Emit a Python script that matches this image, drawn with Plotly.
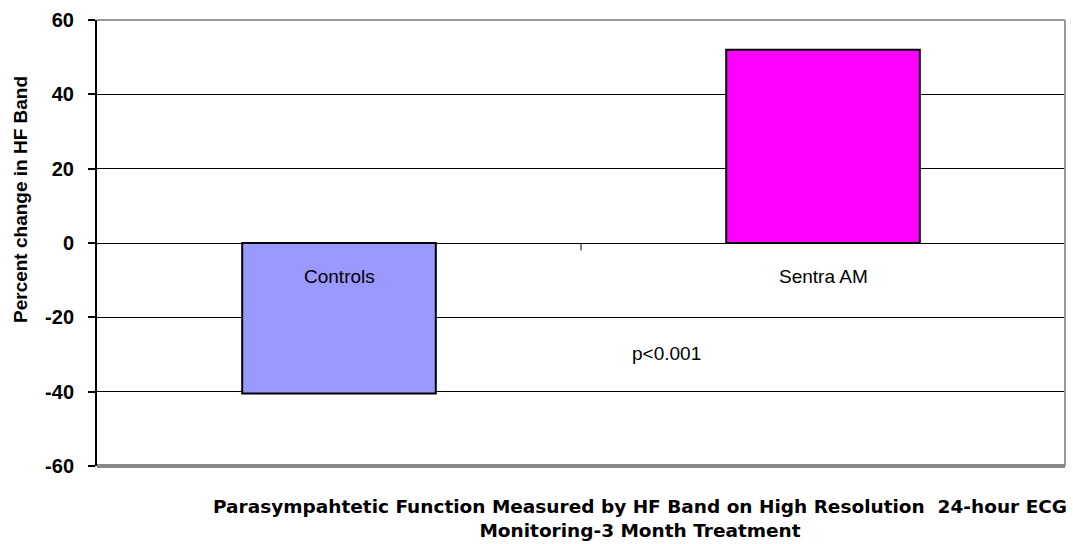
import plotly.graph_objects as go

categories = ["Controls", "Sentra AM"]
values = [-40.5, 52.0]
colors = ["#9999FF", "#FF00FF"]
tick_vals = [-60, -40, -20, 0, 20, 40, 60]
tick_text = ["-60", "-40", "-20", "0", "20", "40", "60"]
y_title = "Percent change in HF Band"
x_title = "Parasympahtetic Function Measured by HF Band on High Resolution  24-hour ECG<br>Monitoring-3 Month Treatment"
p_text = "p<0.001"

fig = go.Figure()
fig.add_trace(go.Bar(
    x=categories, y=values, width=0.4,
    marker=dict(color=colors, line=dict(color="black", width=2)),
    showlegend=False, hoverinfo="skip",
))

font = "Liberation Sans, Arial, sans-serif"
bfont = "DejaVu Sans, Liberation Sans, sans-serif"

L, R, T, B = 97, 8, 20, 78
W, H = 1073, 544
pw = W - L - R
ph = H - T - B

fig.update_layout(
    width=W, height=H,
    margin=dict(l=L, r=R, t=T, b=B, autoexpand=False),
    paper_bgcolor="white", plot_bgcolor="white",
    font=dict(family=font, color="black"),
    xaxis=dict(range=[-0.5, 1.5], showticklabels=False, showgrid=False,
               zeroline=False, showline=False, ticks="", automargin=False),
    yaxis=dict(range=[-60, 60], tickvals=tick_vals, ticktext=tick_text,
               automargin=False,
               showgrid=True, gridcolor="black", gridwidth=1,
               zeroline=False, showline=True, linecolor="black", linewidth=2,
               ticks="outside", ticklen=7, tickcolor="black", tickwidth=2,
               ticklabelstandoff=10,
               tickfont=dict(family=font, size=20, color="black", weight="bold")),
)

# chart-area border (top/right gray, bottom thick gray)
fig.add_shape(type="line", xref="paper", yref="paper", x0=0, x1=1, y0=1, y1=1,
              line=dict(color="#999999", width=2), layer="above")
fig.add_shape(type="line", xref="paper", yref="paper", x0=1, x1=1, y0=0, y1=1,
              line=dict(color="#999999", width=2), layer="above")
fig.add_shape(type="line", xref="paper", yref="paper", x0=0, x1=1, y0=0, y1=0,
              line=dict(color="#888888", width=4), layer="above")
# category boundary tick at zero line
fig.add_shape(type="line", xref="x", yref="y", x0=0.5, x1=0.5, y0=0, y1=-2,
              line=dict(color="black", width=1))

# category labels near the zero line
for c in categories:
    fig.add_annotation(x=c, y=0, xref="x", yref="y", text=c, showarrow=False,
                       yshift=-33, font=dict(family=font, size=19, color="black"))

fig.add_annotation(x=0.5, y=-29.6, xref="x", yref="y", text=p_text, showarrow=False,
                   xshift=85, font=dict(family=font, size=19, color="black"))

# y axis title
fig.add_annotation(x=(20 - L) / pw, y=(T + ph - 200) / ph, xref="paper", yref="paper",
                   text=y_title, textangle=-90, showarrow=False,
                   xanchor="center", yanchor="middle",
                   font=dict(family=font, size=19, color="black", weight="bold"))

# x axis title
fig.add_annotation(x=(640 - L) / pw, y=-(494 - T - ph) / ph, xref="paper", yref="paper",
                   text=x_title, showarrow=False, xanchor="center", yanchor="top",
                   font=dict(family=bfont, size=18.5, color="black", weight="bold"))

fig.write_html("out.html", config={"displayModeBar": False},
               post_script="document.body.style.margin='0';")
